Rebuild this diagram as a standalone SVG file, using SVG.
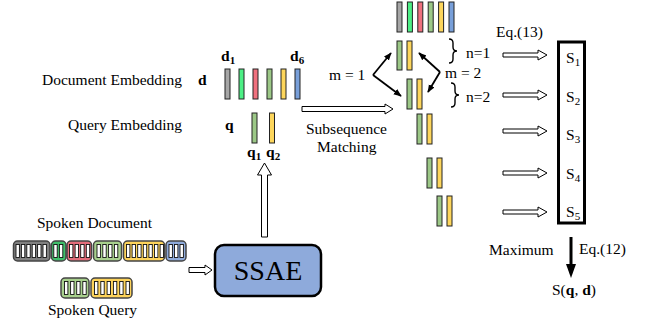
<svg xmlns="http://www.w3.org/2000/svg" width="646" height="326" viewBox="0 0 646 326">
<style>
text{font-family:"Liberation Serif","Times New Roman",serif;font-size:15.5px;fill:#000}
.b{font-weight:bold}
.sub{font-size:11px}
.bar{stroke:#222;stroke-width:1}
.gy{fill:#a6a6a6}.bg{fill:#4cef85}.rd{fill:#f0707e}.gn{fill:#9cc887}.yl{fill:#fdd65c}.bl{fill:#789fd9}
.seg{stroke:#444;stroke-width:1.5}
.slot{fill:#fff;stroke:#111;stroke-width:0.9}
.hol{fill:#fff;stroke:#000;stroke-width:1}
.blk{stroke:#000;stroke-width:1.8;fill:none}
.brace{fill:none;stroke:#000;stroke-width:1.4}
</style>
<defs>
<marker id="ah" viewBox="0 0 10 10" refX="9" refY="5" markerWidth="8" markerHeight="8" orient="auto" markerUnits="userSpaceOnUse"><path d="M0,1 L10,5 L0,9 z" fill="#000"/></marker>
</defs>

<g id="doc-embedding">
<text x="42" y="85">Document Embedding</text>
<text class="b" x="198" y="85">d</text>
<text class="b" x="221" y="61">d<tspan class="sub" dy="3">1</tspan></text>
<text class="b" x="290" y="61">d<tspan class="sub" dy="3">6</tspan></text>
<rect class="bar gy" x="225" y="69" width="5" height="30"/>
<rect class="bar bg" x="239" y="69" width="5" height="30"/>
<rect class="bar rd" x="253" y="69" width="5" height="30"/>
<rect class="bar gn" x="267" y="69" width="5" height="30"/>
<rect class="bar yl" x="281" y="69" width="5" height="30"/>
<rect class="bar bl" x="295" y="69" width="5" height="30"/>
</g>

<g id="query-embedding">
<text x="68" y="130">Query Embedding</text>
<text class="b" x="225" y="130">q</text>
<rect class="bar gn" x="252" y="113" width="5" height="30"/>
<rect class="bar yl" x="269.5" y="113" width="5" height="30"/>
<text class="b" x="247" y="157">q<tspan class="sub" dy="3">1</tspan></text>
<text class="b" x="266" y="157">q<tspan class="sub" dy="3">2</tspan></text>
</g>

<g id="subsequence-label">
<text x="306" y="134">Subsequence</text>
<text x="317" y="152">Matching</text>
</g>

<g id="subsequences">
<rect class="bar gy" x="397" y="2" width="5" height="30"/>
<rect class="bar bg" x="407.4" y="2" width="5" height="30"/>
<rect class="bar rd" x="417.8" y="2" width="5" height="30"/>
<rect class="bar gn" x="428.2" y="2" width="5" height="30"/>
<rect class="bar yl" x="438.6" y="2" width="5" height="30"/>
<rect class="bar bl" x="449" y="2" width="5" height="30"/>

<rect class="bar gn" x="397" y="41" width="5" height="29"/>
<rect class="bar yl" x="407" y="41" width="5" height="29"/>
<rect class="bar gn" x="407" y="79" width="5" height="30"/>
<rect class="bar yl" x="417" y="79" width="5" height="30"/>
<rect class="bar gn" x="417" y="114" width="5" height="30"/>
<rect class="bar yl" x="427" y="114" width="5" height="30"/>
<rect class="bar gn" x="427" y="158" width="5" height="30"/>
<rect class="bar yl" x="437" y="158" width="5" height="30"/>
<rect class="bar gn" x="437" y="196" width="5" height="30"/>
<rect class="bar yl" x="447" y="196" width="5" height="30"/>

<path class="brace" d="M449,39 q4,0 4,4 v4 q0,4 4,4 q-4,0 -4,4 v4 q0,4 -4,4"/>
<path class="brace" d="M451,83 q4,0 4,4 v4 q0,4 4,4 q-4,0 -4,4 v4 q0,4 -4,4"/>
<text x="466" y="58">n=1</text>
<text x="466" y="102">n=2</text>
<text x="329" y="80">m = 1</text>
<text x="445" y="78">m = 2</text>
</g>

<g id="score-box">
<rect x="558.5" y="42" width="26" height="181" fill="#fff" stroke="#000" stroke-width="3"/>
<text x="566" y="63">S<tspan class="sub" dy="3">1</tspan></text>
<text x="566" y="102">S<tspan class="sub" dy="3">2</tspan></text>
<text x="566" y="140">S<tspan class="sub" dy="3">3</tspan></text>
<text x="566" y="179">S<tspan class="sub" dy="3">4</tspan></text>
<text x="566" y="217">S<tspan class="sub" dy="3">5</tspan></text>
<text x="496" y="37">Eq.(13)</text>
</g>

<g id="result">
<text x="489" y="255">Maximum</text>
<text x="579" y="254">Eq.(12)</text>
<text x="552" y="295">S(<tspan class="b">q</tspan>, <tspan class="b">d</tspan>)</text>
</g>

<g id="spoken-document">
<text x="37" y="228">Spoken Document</text>
<rect class="seg" x="13.5" y="241" width="36.5" height="20" rx="4" fill="#808080"/>
<rect class="seg" x="51.5" y="241" width="14.5" height="20" rx="4" fill="#3fbf6a"/>
<rect class="seg" x="67" y="241" width="24.5" height="20" rx="4" fill="#e46d7b"/>
<rect class="seg" x="93.5" y="241" width="28" height="20" rx="4" fill="#a8d08d"/>
<rect class="seg" x="123.5" y="241" width="41" height="20" rx="4" fill="#fdd35a"/>
<rect class="seg" x="166" y="241" width="20" height="20" rx="4" fill="#8eaadb"/>
<g class="slot">
<rect x="16" y="244.5" width="3.4" height="13"/><rect x="21.4" y="244.5" width="3.4" height="13"/><rect x="26.8" y="244.5" width="3.4" height="13"/><rect x="32.2" y="244.5" width="3.4" height="13"/><rect x="37.6" y="244.5" width="3.4" height="13"/><rect x="43" y="244.5" width="3.4" height="13"/>
<rect x="53.8" y="244.5" width="3.4" height="13"/><rect x="59.4" y="244.5" width="3.4" height="13"/>
<rect x="69.5" y="244.5" width="3.4" height="13"/><rect x="75.1" y="244.5" width="3.4" height="13"/><rect x="80.7" y="244.5" width="3.4" height="13"/><rect x="86.3" y="244.5" width="3.4" height="13"/>
<rect x="97" y="244.5" width="3.4" height="13"/><rect x="102.8" y="244.5" width="3.4" height="13"/><rect x="108.6" y="244.5" width="3.4" height="13"/><rect x="114.4" y="244.5" width="3.4" height="13"/>
<rect x="126.5" y="244.5" width="3.4" height="13"/><rect x="132.1" y="244.5" width="3.4" height="13"/><rect x="137.7" y="244.5" width="3.4" height="13"/><rect x="143.3" y="244.5" width="3.4" height="13"/><rect x="148.9" y="244.5" width="3.4" height="13"/><rect x="154.5" y="244.5" width="3.4" height="13"/><rect x="160.1" y="244.5" width="3.4" height="13"/>
<rect x="169" y="244.5" width="3.4" height="13"/><rect x="174.5" y="244.5" width="3.4" height="13"/><rect x="180" y="244.5" width="3.4" height="13"/>
</g>
</g>

<g id="spoken-query">
<rect class="seg" x="61" y="278" width="28" height="20" rx="4" fill="#a8d08d"/>
<rect class="seg" x="91" y="278" width="41" height="20" rx="4" fill="#fdd35a"/>
<g class="slot">
<rect x="64.5" y="281.5" width="3.4" height="13"/><rect x="70.6" y="281.5" width="3.4" height="13"/><rect x="76.7" y="281.5" width="3.4" height="13"/><rect x="82.8" y="281.5" width="3.4" height="13"/>
<rect x="94.5" y="281.5" width="3.4" height="13"/><rect x="100.8" y="281.5" width="3.4" height="13"/><rect x="107.1" y="281.5" width="3.4" height="13"/><rect x="113.4" y="281.5" width="3.4" height="13"/><rect x="119.7" y="281.5" width="3.4" height="13"/><rect x="126" y="281.5" width="3.4" height="13"/>
</g>
<text x="48" y="315">Spoken Query</text>
</g>

<g id="ssae">
<rect x="215" y="245" width="106" height="51" rx="9" fill="#8eaadb" stroke="#000" stroke-width="2.5"/>
<text x="268" y="280" text-anchor="middle" style="font-size:28px">SSAE</text>
</g>

<g id="connectors">
<polygon class="hol" points="189,267.5 205,267.5 205,265 212,270 205,275 205,272.5 189,272.5"/>
<polygon class="hol" points="261.5,237 261.5,175 257.5,175 264.5,163 271.5,175 267.5,175 267.5,237"/>
<polygon class="hol" points="302,106.5 385,106.5 385,104 393,109 385,114 385,111.5 302,111.5"/>
<polygon class="hol" points="503,53 538,53 538,50 547,55 538,60 538,57 503,57"/>
<polygon class="hol" points="503,93 538,93 538,90 547,95 538,100 538,97 503,97"/>
<polygon class="hol" points="503,129 538,129 538,126 547,131 538,136 538,133 503,133"/>
<polygon class="hol" points="503,171 538,171 538,168 547,173 538,178 538,175 503,175"/>
<polygon class="hol" points="503,210 538,210 538,207 547,212 538,217 538,214 503,214"/>
<line class="blk" x1="373" y1="75" x2="391" y2="53" marker-end="url(#ah)"/>
<line class="blk" x1="373" y1="75" x2="401" y2="96" marker-end="url(#ah)"/>
<line class="blk" x1="440" y1="72" x2="419" y2="53" marker-end="url(#ah)"/>
<line class="blk" x1="440" y1="72" x2="428" y2="92" marker-end="url(#ah)"/>
<line x1="571" y1="237" x2="571" y2="266" stroke="#000" stroke-width="3"/>
<polygon points="566,264 576,264 571,278" fill="#000"/>
</g>
</svg>
